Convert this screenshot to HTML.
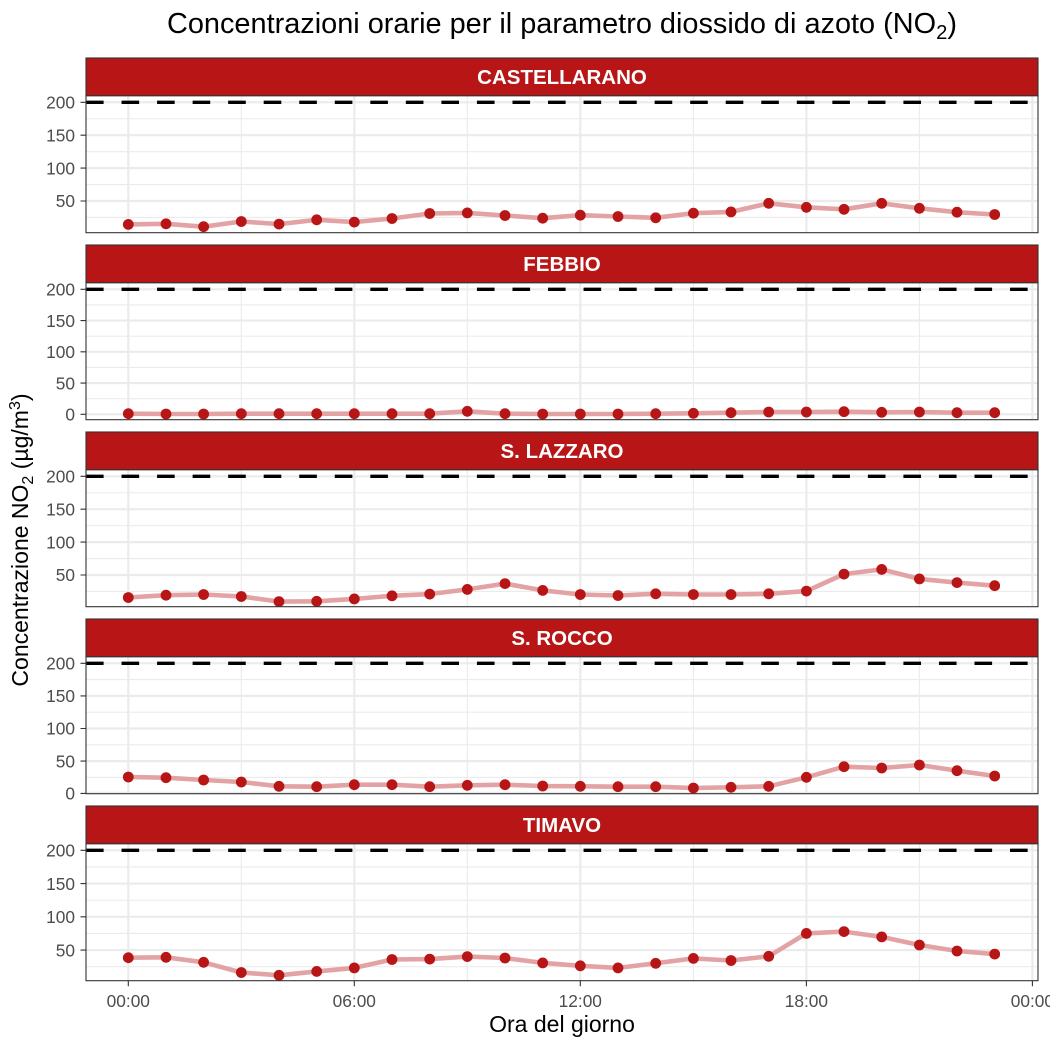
<!DOCTYPE html>
<html>
<head>
<meta charset="utf-8">
<style>
html,body{margin:0;padding:0;background:#fff}
svg{display:block}
text{font-family:"Liberation Sans",Arial,sans-serif}
</style>
</head>
<body>
<svg width="1050" height="1050" viewBox="0 0 1050 1050" xmlns="http://www.w3.org/2000/svg">
<defs>
<marker id="pt" markerUnits="userSpaceOnUse" markerWidth="14" markerHeight="14" refX="7" refY="7" viewBox="0 0 14 14" overflow="visible">
<circle cx="7" cy="7" r="5.4" fill="#b71516"/>
</marker>
</defs>
<rect width="1050" height="1050" fill="#fff"/>

<!-- Title -->
<text x="167" y="33" font-size="28.5" fill="#000" textLength="790" lengthAdjust="spacingAndGlyphs">Concentrazioni orarie per il parametro diossido di azoto (NO<tspan font-size="20" dy="6">2</tspan><tspan dy="-6">)</tspan></text>

<!-- ============ PANEL 1 ============ -->
<g>
<path d="M86 118.75H1038M86 151.65H1038M86 184.55H1038M86 217.45H1038M241.3 95.7V232.7M467.3 95.7V232.7M693.4 95.7V232.7M919.4 95.7V232.7" stroke="#ebebeb" stroke-width="1.1" fill="none"/>
<path d="M86 102.3H1038M86 135.2H1038M86 168.1H1038M86 201H1038M128.3 95.7V232.7M354.3 95.7V232.7M580.3 95.7V232.7M806.4 95.7V232.7M1032.4 95.7V232.7" stroke="#ebebeb" stroke-width="2.2" fill="none"/>
<line x1="86" y1="102.3" x2="1038" y2="102.3" stroke="#000" stroke-width="3.3" stroke-dasharray="17.6 17.94"/>
<polyline points="128.3,224.4 166,223.8 203.6,226.7 241.3,221.5 279,224.1 316.7,219.8 354.3,222.1 392,218.5 429.7,213.5 467.3,212.9 505,215.5 542.7,218.2 580.3,215.2 618,216.5 655.7,217.8 693.4,213.2 731,211.9 768.7,203.3 806.4,207.3 844,209.3 881.7,203.3 919.4,208.3 957,212.2 994.7,214.5" fill="none" stroke="#e3a3a4" stroke-width="4.6" stroke-linejoin="round" stroke-linecap="round"/>
<polyline points="128.3,224.4 166,223.8 203.6,226.7 241.3,221.5 279,224.1 316.7,219.8 354.3,222.1 392,218.5 429.7,213.5 467.3,212.9 505,215.5 542.7,218.2 580.3,215.2 618,216.5 655.7,217.8 693.4,213.2 731,211.9 768.7,203.3 806.4,207.3 844,209.3 881.7,203.3 919.4,208.3 957,212.2 994.7,214.5" fill="none" stroke="none" marker-start="url(#pt)" marker-mid="url(#pt)" marker-end="url(#pt)"/>
<rect x="86" y="95.7" width="952" height="137" fill="none" stroke="#333" stroke-width="1.1"/>
<rect x="86" y="58" width="952" height="37.7" fill="#b71516" stroke="#333" stroke-width="1.1"/>
<text x="562" y="84" font-size="20.5" font-weight="bold" fill="#fff" text-anchor="middle">CASTELLARANO</text>
<path d="M80.5 102.3H86M80.5 135.2H86M80.5 168.1H86M80.5 201H86" stroke="#333" stroke-width="1.1"/>
<g font-size="17.3" fill="#4d4d4d" text-anchor="end">
<text x="75" y="108.5">200</text><text x="75" y="141.4">150</text><text x="75" y="174.3">100</text><text x="75" y="207.2">50</text>
</g>
</g>

<!-- ============ PANEL 2 ============ -->
<g>
<path d="M86 304.9H1038M86 336.2H1038M86 367.4H1038M86 398.7H1038M241.3 282.7V419.7M467.3 282.7V419.7M693.4 282.7V419.7M919.4 282.7V419.7" stroke="#ebebeb" stroke-width="1.1" fill="none"/>
<path d="M86 289.3H1038M86 320.55H1038M86 351.8H1038M86 383.05H1038M86 414.3H1038M128.3 282.7V419.7M354.3 282.7V419.7M580.3 282.7V419.7M806.4 282.7V419.7M1032.4 282.7V419.7" stroke="#ebebeb" stroke-width="2.2" fill="none"/>
<line x1="86" y1="289.3" x2="1038" y2="289.3" stroke="#000" stroke-width="3.3" stroke-dasharray="17.6 17.94"/>
<polyline points="128.3,413.7 166,414 203.6,414 241.3,413.7 279,413.7 316.7,413.7 354.3,413.7 392,413.7 429.7,413.7 467.3,411.3 505,413.7 542.7,414 580.3,414 618,414 655.7,413.7 693.4,413.3 731,412.7 768.7,412 806.4,412 844,411.7 881.7,412.3 919.4,412 957,412.7 994.7,412.7" fill="none" stroke="#e3a3a4" stroke-width="4.6" stroke-linejoin="round" stroke-linecap="round"/>
<polyline points="128.3,413.7 166,414 203.6,414 241.3,413.7 279,413.7 316.7,413.7 354.3,413.7 392,413.7 429.7,413.7 467.3,411.3 505,413.7 542.7,414 580.3,414 618,414 655.7,413.7 693.4,413.3 731,412.7 768.7,412 806.4,412 844,411.7 881.7,412.3 919.4,412 957,412.7 994.7,412.7" fill="none" stroke="none" marker-start="url(#pt)" marker-mid="url(#pt)" marker-end="url(#pt)"/>
<rect x="86" y="282.7" width="952" height="137" fill="none" stroke="#333" stroke-width="1.1"/>
<rect x="86" y="245" width="952" height="37.7" fill="#b71516" stroke="#333" stroke-width="1.1"/>
<text x="562" y="271" font-size="20.5" font-weight="bold" fill="#fff" text-anchor="middle">FEBBIO</text>
<path d="M80.5 289.3H86M80.5 320.55H86M80.5 351.8H86M80.5 383.05H86M80.5 414.3H86" stroke="#333" stroke-width="1.1"/>
<g font-size="17.3" fill="#4d4d4d" text-anchor="end">
<text x="75" y="295.5">200</text><text x="75" y="326.75">150</text><text x="75" y="358">100</text><text x="75" y="389.25">50</text><text x="75" y="420.5">0</text>
</g>
</g>

<!-- ============ PANEL 3 ============ -->
<g>
<path d="M86 492.75H1038M86 525.65H1038M86 558.55H1038M86 591.45H1038M241.3 469.7V606.7M467.3 469.7V606.7M693.4 469.7V606.7M919.4 469.7V606.7" stroke="#ebebeb" stroke-width="1.1" fill="none"/>
<path d="M86 476.3H1038M86 509.2H1038M86 542.1H1038M86 575H1038M128.3 469.7V606.7M354.3 469.7V606.7M580.3 469.7V606.7M806.4 469.7V606.7M1032.4 469.7V606.7" stroke="#ebebeb" stroke-width="2.2" fill="none"/>
<line x1="86" y1="476.3" x2="1038" y2="476.3" stroke="#000" stroke-width="3.3" stroke-dasharray="17.6 17.94"/>
<polyline points="128.3,597.5 166,595.2 203.6,594.5 241.3,596.5 279,601.6 316.7,601.3 354.3,598.9 392,595.8 429.7,594.1 467.3,589.4 505,583.6 542.7,590.4 580.3,594.5 618,595.5 655.7,593.8 693.4,594.5 731,594.5 768.7,593.8 806.4,591.1 844,574.1 881.7,569.4 919.4,578.9 957,582.6 994.7,585.7" fill="none" stroke="#e3a3a4" stroke-width="4.6" stroke-linejoin="round" stroke-linecap="round"/>
<polyline points="128.3,597.5 166,595.2 203.6,594.5 241.3,596.5 279,601.6 316.7,601.3 354.3,598.9 392,595.8 429.7,594.1 467.3,589.4 505,583.6 542.7,590.4 580.3,594.5 618,595.5 655.7,593.8 693.4,594.5 731,594.5 768.7,593.8 806.4,591.1 844,574.1 881.7,569.4 919.4,578.9 957,582.6 994.7,585.7" fill="none" stroke="none" marker-start="url(#pt)" marker-mid="url(#pt)" marker-end="url(#pt)"/>
<rect x="86" y="469.7" width="952" height="137" fill="none" stroke="#333" stroke-width="1.1"/>
<rect x="86" y="432" width="952" height="37.7" fill="#b71516" stroke="#333" stroke-width="1.1"/>
<text x="562" y="458" font-size="20.5" font-weight="bold" fill="#fff" text-anchor="middle">S. LAZZARO</text>
<path d="M80.5 476.3H86M80.5 509.2H86M80.5 542.1H86M80.5 575H86" stroke="#333" stroke-width="1.1"/>
<g font-size="17.3" fill="#4d4d4d" text-anchor="end">
<text x="75" y="482.5">200</text><text x="75" y="515.4">150</text><text x="75" y="548.3">100</text><text x="75" y="581.2">50</text>
</g>
</g>

<!-- ============ PANEL 4 ============ -->
<g>
<path d="M86 679.6H1038M86 712.2H1038M86 744.8H1038M86 777.4H1038M241.3 656.7V793.7M467.3 656.7V793.7M693.4 656.7V793.7M919.4 656.7V793.7" stroke="#ebebeb" stroke-width="1.1" fill="none"/>
<path d="M86 663.3H1038M86 695.9H1038M86 728.5H1038M86 761.1H1038M86 792.8H1038M128.3 656.7V793.7M354.3 656.7V793.7M580.3 656.7V793.7M806.4 656.7V793.7M1032.4 656.7V793.7" stroke="#ebebeb" stroke-width="2.2" fill="none"/>
<line x1="86" y1="663.3" x2="1038" y2="663.3" stroke="#000" stroke-width="3.3" stroke-dasharray="17.6 17.94"/>
<polyline points="128.3,777 166,777.7 203.6,780 241.3,782 279,786.3 316.7,786.7 354.3,784.7 392,784.7 429.7,786.7 467.3,785.3 505,784.7 542.7,786 580.3,786.3 618,786.7 655.7,786.7 693.4,788 731,787.3 768.7,786.3 806.4,777.3 844,766.7 881.7,768 919.4,765 957,770.7 994.7,776" fill="none" stroke="#e3a3a4" stroke-width="4.6" stroke-linejoin="round" stroke-linecap="round"/>
<polyline points="128.3,777 166,777.7 203.6,780 241.3,782 279,786.3 316.7,786.7 354.3,784.7 392,784.7 429.7,786.7 467.3,785.3 505,784.7 542.7,786 580.3,786.3 618,786.7 655.7,786.7 693.4,788 731,787.3 768.7,786.3 806.4,777.3 844,766.7 881.7,768 919.4,765 957,770.7 994.7,776" fill="none" stroke="none" marker-start="url(#pt)" marker-mid="url(#pt)" marker-end="url(#pt)"/>
<rect x="86" y="656.7" width="952" height="137" fill="none" stroke="#333" stroke-width="1.1"/>
<rect x="86" y="619" width="952" height="37.7" fill="#b71516" stroke="#333" stroke-width="1.1"/>
<text x="562" y="645" font-size="20.5" font-weight="bold" fill="#fff" text-anchor="middle">S. ROCCO</text>
<path d="M80.5 663.3H86M80.5 695.9H86M80.5 728.5H86M80.5 761.1H86M80.5 793.4H86" stroke="#333" stroke-width="1.1"/>
<g font-size="17.3" fill="#4d4d4d" text-anchor="end">
<text x="75" y="669.5">200</text><text x="75" y="702.1">150</text><text x="75" y="734.7">100</text><text x="75" y="767.3">50</text><text x="75" y="799.6">0</text>
</g>
</g>

<!-- ============ PANEL 5 ============ -->
<g>
<path d="M86 866.9H1038M86 900.2H1038M86 933.4H1038M86 966.7H1038M241.3 843.7V980.7M467.3 843.7V980.7M693.4 843.7V980.7M919.4 843.7V980.7" stroke="#ebebeb" stroke-width="1.1" fill="none"/>
<path d="M86 850.3H1038M86 883.55H1038M86 916.8H1038M86 950.05H1038M128.3 843.7V980.7M354.3 843.7V980.7M580.3 843.7V980.7M806.4 843.7V980.7M1032.4 843.7V980.7" stroke="#ebebeb" stroke-width="2.2" fill="none"/>
<line x1="86" y1="850.3" x2="1038" y2="850.3" stroke="#000" stroke-width="3.3" stroke-dasharray="17.6 17.94"/>
<polyline points="128.3,957.7 166,957.3 203.6,962.3 241.3,972.5 279,975.3 316.7,971.4 354.3,967.9 392,959.5 429.7,959.1 467.3,956.6 505,958 542.7,962.9 580.3,965.8 618,967.9 655.7,963.3 693.4,958.4 731,960.5 768.7,956.3 806.4,933.4 844,931.6 881.7,936.9 919.4,945 957,951 994.7,954.1" fill="none" stroke="#e3a3a4" stroke-width="4.6" stroke-linejoin="round" stroke-linecap="round"/>
<polyline points="128.3,957.7 166,957.3 203.6,962.3 241.3,972.5 279,975.3 316.7,971.4 354.3,967.9 392,959.5 429.7,959.1 467.3,956.6 505,958 542.7,962.9 580.3,965.8 618,967.9 655.7,963.3 693.4,958.4 731,960.5 768.7,956.3 806.4,933.4 844,931.6 881.7,936.9 919.4,945 957,951 994.7,954.1" fill="none" stroke="none" marker-start="url(#pt)" marker-mid="url(#pt)" marker-end="url(#pt)"/>
<rect x="86" y="843.7" width="952" height="137" fill="none" stroke="#333" stroke-width="1.1"/>
<rect x="86" y="806" width="952" height="37.7" fill="#b71516" stroke="#333" stroke-width="1.1"/>
<text x="562" y="832" font-size="20.5" font-weight="bold" fill="#fff" text-anchor="middle">TIMAVO</text>
<path d="M80.5 850.3H86M80.5 883.55H86M80.5 916.8H86M80.5 950.05H86" stroke="#333" stroke-width="1.1"/>
<g font-size="17.3" fill="#4d4d4d" text-anchor="end">
<text x="75" y="856.5">200</text><text x="75" y="889.75">150</text><text x="75" y="923">100</text><text x="75" y="956.25">50</text>
</g>
</g>

<!-- X axis -->
<path d="M128.3 980.7V986.2M354.3 980.7V986.2M580.3 980.7V986.2M806.4 980.7V986.2M1032.4 980.7V986.2" stroke="#333" stroke-width="1.1"/>
<g font-size="17.3" fill="#4d4d4d" text-anchor="middle">
<text x="128.3" y="1006.9">00:00</text>
<text x="354.3" y="1006.9">06:00</text>
<text x="580.3" y="1006.9">12:00</text>
<text x="806.4" y="1006.9">18:00</text>
<text x="1032.4" y="1006.9">00:00</text>
</g>
<text x="562" y="1032" font-size="23" fill="#000" text-anchor="middle">Ora del giorno</text>

<!-- Y axis title -->
<text transform="translate(28,540) rotate(-90)" font-size="23" fill="#000" text-anchor="middle">Concentrazione NO<tspan font-size="16" dy="5">2</tspan><tspan dy="-5"> (µg/m</tspan><tspan font-size="16" dy="-8">3</tspan><tspan dy="8">)</tspan></text>
</svg>
</body>
</html>
